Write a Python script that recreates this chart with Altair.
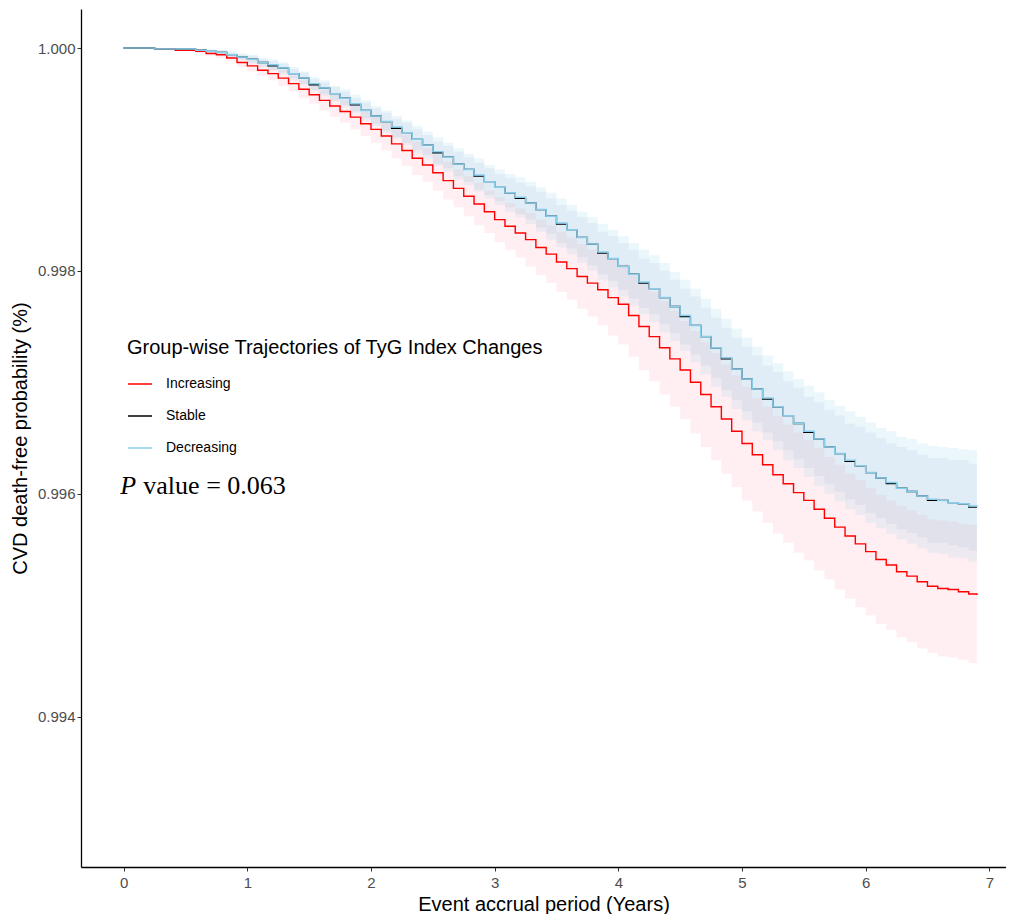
import altair as alt
import pandas as pd

# step times (months since baseline); last entry = end of follow-up (6.9 years)
MONTHS = [0, 3, 4, 5, 6, 7, 8, 9, 10, 11, 12,
          13, 14, 15, 16, 17, 18, 19, 20, 21, 22, 23, 24,
          25, 26, 27, 28, 29, 30, 31, 32, 33, 34, 35, 36,
          37, 38, 39, 40, 41, 42, 43, 44, 45, 46, 47, 48,
          49, 50, 51, 52, 53, 54, 55, 56, 57, 58, 59, 60,
          61, 62, 63, 64, 65, 66, 67, 68, 69, 70, 71, 72,
          73, 74, 75, 76, 77, 78, 79, 80, 81, 82, 82.8]

GROUPS = ["Increasing", "Stable", "Decreasing"]
LINE_COLORS = ["#FF0000", "#000000", "#87CEEB"]

INCREASING = [1.00000, 0.99999, 0.99999, 0.99998, 0.99998, 0.99997, 0.99995, 0.99994, 0.99991, 0.99987, 0.99984,
              0.99980, 0.99977, 0.99973, 0.99968, 0.99963, 0.99958, 0.99953, 0.99948, 0.99943, 0.99938, 0.99932, 0.99927,
              0.99921, 0.99914, 0.99908, 0.99901, 0.99895, 0.99888, 0.99881, 0.99874, 0.99867, 0.99860, 0.99853, 0.99846,
              0.99840, 0.99834, 0.99828, 0.99821, 0.99815, 0.99808, 0.99802, 0.99795, 0.99789, 0.99783, 0.99776, 0.99770,
              0.99760, 0.99750, 0.99741, 0.99731, 0.99721, 0.99711, 0.99700, 0.99689, 0.99678, 0.99667, 0.99656, 0.99645,
              0.99635, 0.99626, 0.99617, 0.99609, 0.99601, 0.99594, 0.99586, 0.99578, 0.99570, 0.99562, 0.99555, 0.99548,
              0.99541, 0.99536, 0.99530, 0.99526, 0.99521, 0.99517, 0.99515, 0.99514, 0.99512, 0.99510, 0.99509]

STABLE = [1.00000, 0.99999, 0.99999, 0.99999, 0.99999, 0.99998, 0.99997, 0.99996, 0.99994, 0.99992, 0.99990,
          0.99987, 0.99984, 0.99982, 0.99977, 0.99973, 0.99967, 0.99964, 0.99959, 0.99955, 0.99949, 0.99944, 0.99939,
          0.99934, 0.99928, 0.99924, 0.99918, 0.99913, 0.99906, 0.99902, 0.99896, 0.99891, 0.99885, 0.99880, 0.99875,
          0.99870, 0.99865, 0.99861, 0.99855, 0.99849, 0.99842, 0.99837, 0.99830, 0.99824, 0.99816, 0.99811, 0.99804,
          0.99797, 0.99789, 0.99784, 0.99776, 0.99768, 0.99759, 0.99751, 0.99741, 0.99731, 0.99721, 0.99712, 0.99703,
          0.99694, 0.99685, 0.99678, 0.99670, 0.99663, 0.99655, 0.99649, 0.99642, 0.99636, 0.99629, 0.99625, 0.99619,
          0.99614, 0.99609, 0.99605, 0.99602, 0.99598, 0.99594, 0.99594, 0.99592, 0.99591, 0.99588, 0.99588]

DECREASING = [1.00000, 0.99999, 0.99999, 0.99999, 0.99999, 0.99998, 0.99997, 0.99996, 0.99994, 0.99992, 0.99990,
              0.99987, 0.99985, 0.99982, 0.99977, 0.99973, 0.99968, 0.99964, 0.99959, 0.99955, 0.99950, 0.99944, 0.99939,
              0.99934, 0.99929, 0.99924, 0.99918, 0.99913, 0.99907, 0.99902, 0.99896, 0.99891, 0.99886, 0.99880, 0.99875,
              0.99870, 0.99866, 0.99861, 0.99855, 0.99849, 0.99843, 0.99837, 0.99830, 0.99824, 0.99817, 0.99811, 0.99804,
              0.99797, 0.99790, 0.99784, 0.99776, 0.99768, 0.99760, 0.99751, 0.99741, 0.99731, 0.99722, 0.99712, 0.99703,
              0.99694, 0.99686, 0.99678, 0.99670, 0.99663, 0.99656, 0.99649, 0.99642, 0.99636, 0.99630, 0.99625, 0.99619,
              0.99614, 0.99610, 0.99605, 0.99602, 0.99598, 0.99595, 0.99594, 0.99592, 0.99591, 0.99589, 0.99588]

# 95% CI half-widths, in units of 1e-5
INCREASING_HW = [0, 0, 1, 1, 1, 2, 2, 3, 3, 4, 5,
                 5, 6, 7, 7, 8, 8, 9, 10, 10, 11, 11, 12,
                 13, 13, 14, 15, 15, 16, 17, 17, 18, 19, 19, 20,
                 21, 22, 24, 25, 26, 27, 28, 29, 30, 32, 34, 36,
                 37, 39, 40, 42, 43, 44, 46, 47, 48, 49, 50, 51,
                 51, 52, 53, 53, 54, 54, 55, 55, 56, 56, 57, 57,
                 58, 58, 59, 59, 60, 60, 61, 61, 61, 62, 62]
STABLE_HW = [0, 0, 0, 1, 1, 1, 1, 2, 2, 2, 3,
             3, 4, 4, 4, 5, 5, 5, 6, 6, 6, 7, 7,
             8, 8, 9, 9, 9, 10, 10, 11, 11, 12, 12, 12,
             13, 14, 15, 16, 16, 17, 17, 18, 19, 19, 20, 21,
             22, 22, 23, 24, 24, 25, 26, 26, 27, 28, 28, 29,
             30, 30, 31, 31, 32, 32, 33, 33, 34, 34, 35, 36,
             36, 36, 37, 37, 37, 38, 38, 38, 39, 39, 39]
DECREASING_HW = [0, 0, 0, 1, 1, 1, 2, 2, 3, 3, 4,
                 4, 5, 5, 6, 6, 6, 7, 7, 8, 8, 9, 9,
                 10, 10, 11, 12, 12, 13, 13, 14, 14, 15, 15, 16,
                 17, 18, 19, 20, 21, 22, 22, 23, 24, 25, 26, 27,
                 28, 29, 30, 31, 31, 32, 33, 34, 35, 35, 36, 37,
                 38, 38, 39, 40, 40, 41, 42, 42, 43, 44, 44, 45,
                 45, 46, 46, 47, 47, 48, 48, 49, 49, 50, 50]

BAND_FILLS = ["#FFC0CB", "#5B6EA0", "#87CEEB"]
BAND_OPACITY = [0.26, 0.08, 0.16]

P_TEXT_ITALIC = "P"
P_TEXT_REST = "value = 0.063"

rows = []
for g, surv, hw in zip(GROUPS, [INCREASING, STABLE, DECREASING],
                       [INCREASING_HW, STABLE_HW, DECREASING_HW]):
    for m, v, h in zip(MONTHS, surv, hw):
        rows.append({"group": g, "t": m / 12.0, "s": v,
                     "lo": v - h * 1e-5, "hi": v + h * 1e-5})
df = pd.DataFrame(rows)

xscale = alt.Scale(domain=[-0.345, 7.135], nice=False, zero=False)
yscale = alt.Scale(domain=[0.99265, 1.00035], nice=False, zero=False)
xaxis = alt.Axis(values=list(range(8)), title="Event accrual period (Years)",
                 labelPadding=4, titlePadding=4, format="d")
yaxis = alt.Axis(values=[0.994, 0.996, 0.998, 1.0], format=".3f",
                 title="CVD death-free probability (%)", labelPadding=2, titlePadding=7)

X = alt.X("t:Q", scale=xscale, axis=xaxis)

legend = alt.Legend(title="Group-wise Trajectories of TyG Index Changes",
                    orient="none", legendX=46, legendY=329,
                    symbolType="stroke", symbolSize=576, symbolStrokeWidth=1.5,
                    labelFont="Liberation Sans", labelFontSize=14, labelColor="black",
                    titleFont="Liberation Sans", titleFontSize=20, titleFontWeight="normal",
                    titleColor="black", titlePadding=13, rowPadding=12, labelOffset=13,
                    titleLimit=700, padding=0)
color = alt.Color("group:N", scale=alt.Scale(domain=GROUPS, range=LINE_COLORS), legend=legend)

layers = []
for g, f, op in zip(GROUPS, BAND_FILLS, BAND_OPACITY):
    layers.append(
        alt.Chart(df).transform_filter(alt.datum.group == g)
        .mark_area(interpolate="step-after", color=f, opacity=op, clip=True)
        .encode(x=X, y=alt.Y("lo:Q", scale=yscale, axis=yaxis), y2="hi:Q")
    )
for g, w in zip(GROUPS, [1.4, 1.3, 1.5]):
    layers.append(
        alt.Chart(df).transform_filter(alt.datum.group == g)
        .mark_line(interpolate="step-after", strokeWidth=w, clip=True)
        .encode(x=X, y=alt.Y("s:Q", scale=yscale, axis=yaxis), color=color)
    )

pdf = pd.DataFrame({"t": [-0.027], "s": [0.996], "p": [P_TEXT_ITALIC], "rest": [P_TEXT_REST]})
layers.append(
    alt.Chart(pdf).mark_text(align="left", baseline="alphabetic", font="Liberation Serif",
                             fontSize=26, fontStyle="italic", color="black")
    .encode(x=X, y=alt.Y("s:Q", scale=yscale, axis=yaxis), text="p:N")
)
layers.append(
    alt.Chart(pdf).mark_text(align="left", baseline="alphabetic", font="Liberation Serif",
                             fontSize=26, color="black", dx=23)
    .encode(x=X, y=alt.Y("s:Q", scale=yscale, axis=yaxis), text="rest:N")
)

chart = alt.layer(*layers).properties(
    width=925, height=858,
    padding={"left": 2, "top": 1, "right": 0, "bottom": 0},
).configure_view(stroke=None).configure_axis(
    grid=False, domainColor="black", domainWidth=1.3, tickColor="#333333", tickSize=4,
    tickWidth=1, labelFont="Liberation Sans", labelFontSize=15, labelColor="#4D4D4D",
    titleFont="Liberation Sans", titleFontSize=20, titleFontWeight="normal", titleColor="black",
)

chart.save("out.html", embed_options={"renderer": "svg", "actions": False})
